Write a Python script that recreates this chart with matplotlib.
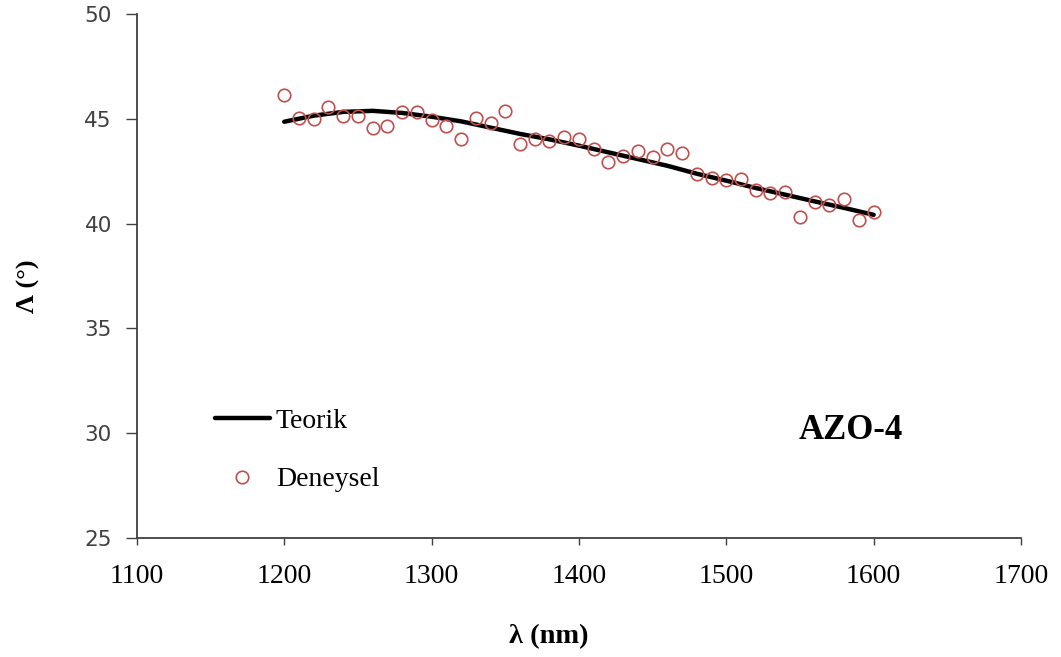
import matplotlib
matplotlib.use("Agg")
import matplotlib.pyplot as plt
import numpy as np

# Measured ellipsometric angle Delta (degrees) vs wavelength
wl_exp = list(range(1200, 1601, 10))
delta_exp = [46.14, 45.02, 45.00, 45.58, 45.13, 45.13, 44.58, 44.67, 45.31, 45.31,
             44.93, 44.67, 44.05, 45.02, 44.81, 45.36, 43.78, 44.02, 43.94, 44.15,
             44.03, 43.56, 42.95, 43.22, 43.46, 43.16, 43.54, 43.35, 42.35, 42.16,
             42.08, 42.11, 41.60, 41.47, 41.52, 40.33, 41.05, 40.89, 41.17, 40.17,
             40.54]

# Model (theoretical) curve
wl_th = list(range(1200, 1601, 20))
delta_th = [44.86, 45.15, 45.33, 45.38, 45.28, 45.10, 44.88, 44.58, 44.28, 44.02,
            43.72, 43.40, 43.08, 42.76, 42.38, 42.05, 41.70, 41.38, 41.06, 40.75,
            40.42]

x_ticks = [1100, 1200, 1300, 1400, 1500, 1600, 1700]
y_ticks = [25, 30, 35, 40, 45, 50]

serif = ["Liberation Serif", "DejaVu Serif"]

fig = plt.figure(figsize=(10.61, 6.57), dpi=100)
ax = fig.add_axes([0.129, 0.181, 0.8333, 0.7977])

ax.plot(wl_th, delta_th, color="black", lw=3.2, solid_capstyle="round",
        label="Teorik", zorder=2)
ax.plot(wl_exp, delta_exp, linestyle="none", marker="o", markersize=9,
        markerfacecolor="none", markeredgecolor="#C0504D", markeredgewidth=1.2,
        label="Deneysel", zorder=3)

ax.set_xlim(1100, 1700)
ax.set_ylim(25, 50)
ax.set_xticks(x_ticks)
ax.set_yticks(y_ticks)

for s in ["top", "right"]:
    ax.spines[s].set_visible(False)
for s in ["left", "bottom"]:
    ax.spines[s].set_color("#404040")
    ax.spines[s].set_linewidth(1.3)

ax.tick_params(axis="y", direction="out", length=8, width=1.0, color="#404040",
               labelsize=15.5, labelcolor="#404040", pad=10)
ax.tick_params(axis="x", direction="out", length=5, width=1.0, color="#404040",
               labelsize=20, pad=14)
for lbl in ax.get_xticklabels():
    lbl.set_family(serif)
for lbl in ax.get_yticklabels():
    lbl.set_family("DejaVu Sans")

ax.set_xlabel("λ (nm)", fontsize=20.5, fontweight="bold", family=serif)
ax.xaxis.set_label_coords(0.466, -0.164)
ax.xaxis.label.set_va("top")
ax.set_ylabel("Λ (°)", fontsize=19, fontweight="bold", family=serif)
ax.yaxis.set_label_coords(-0.11, 0.48)

leg = ax.legend(loc="upper left", bbox_to_anchor=(0.088, 0.248), frameon=False,
                prop={"family": serif, "size": 20}, handlelength=2.0,
                handletextpad=0.2, labelspacing=1.2, borderpad=0,
                borderaxespad=0)

ax.text(0.808, 0.205, "AZO-4", transform=ax.transAxes, ha="center", va="center",
        fontsize=25, fontweight="bold", family=serif)

fig.savefig("out.png", dpi=100)
